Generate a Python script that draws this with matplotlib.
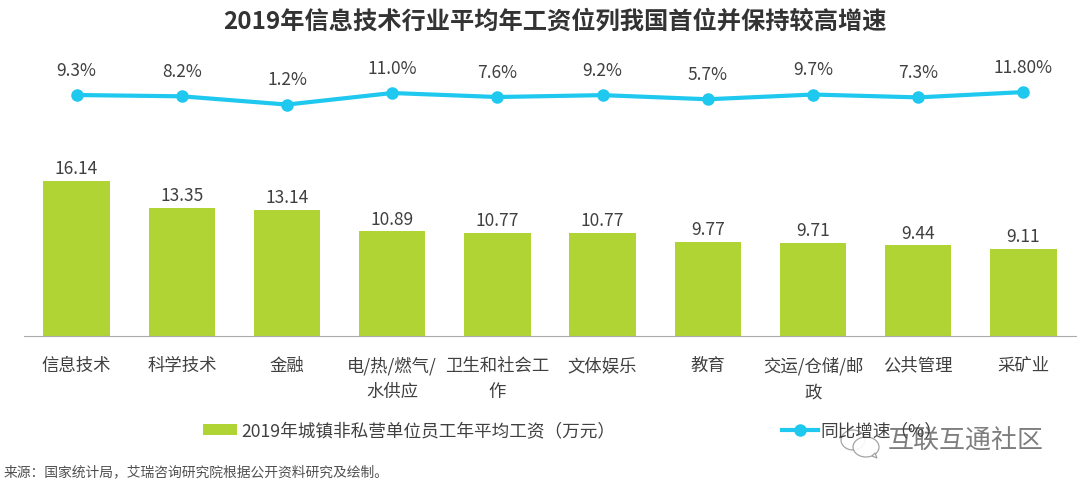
import matplotlib
matplotlib.use('Agg')
import matplotlib.pyplot as plt
from matplotlib.patches import Ellipse, Polygon

plt.rcParams['font.family'] = ['Noto Sans CJK SC', 'DejaVu Sans']

categories = ['信息技术', '科学技术', '金融', '电/热/燃气/\n水供应', '卫生和社会工\n作', '文体娱乐', '教育', '交运/仓储/邮\n政', '公共管理', '采矿业']
wages = [16.14, 13.35, 13.14, 10.89, 10.77, 10.77, 9.77, 9.71, 9.44, 9.11]
growth = [9.3, 8.2, 1.2, 11.0, 7.6, 9.2, 5.7, 9.7, 7.3, 11.8]
growth_labels = ['9.3%', '8.2%', '1.2%', '11.0%', '7.6%', '9.2%', '5.7%', '9.7%', '7.3%', '11.80%']
wage_name = '2019年城镇非私营单位员工年平均工资（万元）'
growth_name = '同比增速（%）'
title = '2019年信息技术行业平均年工资位列我国首位并保持较高增速'
source = '来源：国家统计局，艾瑞咨询研究院根据公开资料研究及绘制。'
watermark = '互联互通社区'

W, H = 1080, 488
TXT = '#404040'
fig = plt.figure(figsize=(W/100, H/100), dpi=100)
ax = fig.add_axes([24/W, 1-336/H, (1076-24)/W, (336-150)/H])
x = list(range(len(categories)))
ax.bar(x, wages, width=0.63, color='#B0D433', label=wage_name)
for i, v in zip(x, wages):
    ax.annotate(f'{v:.2f}', (i, v), xytext=(0, 2), textcoords='offset points', ha='center', va='bottom', fontsize=12.5, color=TXT)
ax.set_xlim(-0.5, 9.5)
ax.set_ylim(0, 186/155*16.14)
ax.set_xticks(x)
ax.set_xticklabels(categories, fontsize=12.5, color=TXT, linespacing=1.55)
ax.tick_params(axis='x', length=0, pad=15)
ax.set_yticks([])
for s in ['top', 'left', 'right']:
    ax.spines[s].set_visible(False)
ax.spines['bottom'].set_color('#ABABAB')
ax.patch.set_alpha(0)

ax2 = fig.add_axes([24/W, 1-120/H, (1076-24)/W, 70/H])
ax2.plot(x, growth, color='#1FC8EE', lw=3, marker='o', ms=8, label=growth_name)
for i, v, lab in zip(x, growth, growth_labels):
    ax2.annotate(lab, (i, v), xytext=(0, 17.5), textcoords='offset points', ha='center', va='center', fontsize=12.5, color=TXT, annotation_clip=False)
ax2.set_xlim(-0.5, 9.5)
ax2.set_ylim(-11.9, 47.5)
ax2.axis('off')

fig.text(555/W, 1-22/H, title, ha='center', va='center', fontsize=17.45, fontweight='bold', color='#333333')

h1, l1 = ax.get_legend_handles_labels()
fig.legend(h1, l1, loc='center', bbox_to_anchor=(409/W, 1-431/H), frameon=False, fontsize=12.7, labelcolor=TXT, handlelength=1.95, handleheight=0.55, handletextpad=0.2, borderaxespad=0, borderpad=0)
h2, l2 = ax2.get_legend_handles_labels()
fig.legend(h2, l2, loc='center left', bbox_to_anchor=(782/W, 1-431/H), frameon=False, fontsize=12.7, labelcolor=TXT, handlelength=2.05, handletextpad=0.15, borderaxespad=0, borderpad=0)

fig.text(4/W, 1-472/H, source, fontsize=9.95, color='#505050', ha='left', va='center')
fig.text(1044/W, 1-441.5/H, watermark, fontsize=18.7, color='#707070', ha='right', va='center', fontweight='light', alpha=0.9)

# WeChat-style watermark bubbles
overlay = fig.add_axes([0, 0, 1, 1])
overlay.set_xlim(0, W)
overlay.set_ylim(H, 0)
overlay.axis('off')
for cx, cy, w, h in [(853, 440, 24, 20), (866, 447, 26, 20)]:
    overlay.add_patch(Ellipse((cx, cy), w, h, fc='white', ec='#9A9A9A', lw=0.9, alpha=0.9))
overlay.add_patch(Polygon([(872, 456), (877, 458), (875, 453)], closed=True, fc='white', ec='#9A9A9A', lw=0.8))
fig.savefig('out.png', dpi=100)
